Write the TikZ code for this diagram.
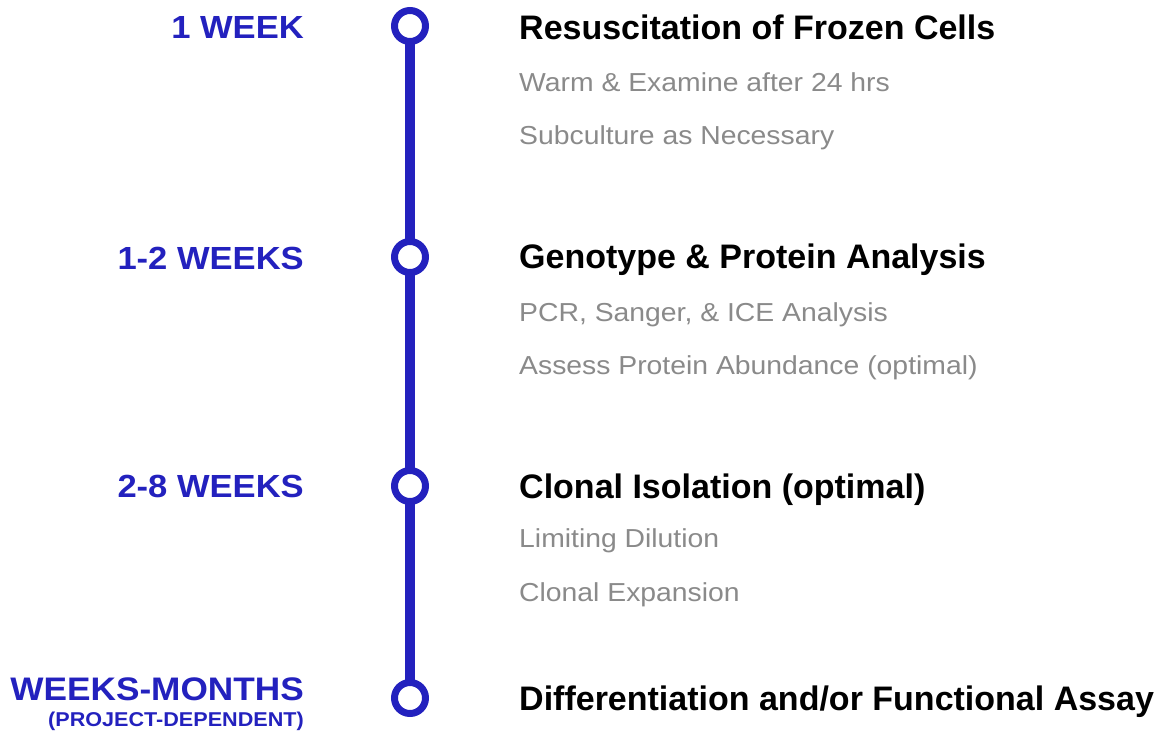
\documentclass[tikz,border=0pt]{standalone}
\usepackage{fontspec}
\setmainfont{Liberation Sans}
\newfontfamily\labfont{Liberation Sans}[FakeStretch=1.08]
\newfontfamily\grayfont{Liberation Sans}[FakeStretch=1.09]
\usetikzlibrary{backgrounds}
\definecolor{tlblue}{RGB}{35,33,190}
\definecolor{tlgray}{RGB}{138,138,138}
\tikzset{
  milestone/.style={circle, draw=tlblue, line width=7pt, fill=white, inner sep=0pt, minimum size=31pt},
  timeline/.style={draw=tlblue, line width=10.5pt},
  period/.style={anchor=base east, inner sep=0pt, text=tlblue, font=\labfont\bfseries\fontsize{32}{36}\selectfont},
  periodnote/.style={anchor=base east, inner sep=0pt, text=tlblue, font=\labfont\bfseries\fontsize{20}{24}\selectfont},
  steptitle/.style={anchor=base west, inner sep=0pt, text=black, font=\bfseries\fontsize{34}{40}\selectfont},
  stepitem/.style={anchor=base west, inner sep=0pt, text=tlgray, font=\grayfont\fontsize{26}{30}\selectfont}
}
\begin{document}
\begin{tikzpicture}[x=1pt,y=-1pt]
\useasboundingbox (0,0) rectangle (1160,736);
% milestones
\node[milestone] (c1) at (410,26) {};
\node[milestone] (c2) at (410,257) {};
\node[milestone] (c3) at (410,486) {};
\node[milestone] (c4) at (410,698) {};
\begin{scope}[on background layer]
  \draw[timeline] (c1.center) -- (c4.center);
\end{scope}
% periods
\node[period] (p1) at (304,38) {1 WEEK};
\node[period] (p2) at (304,269) {1-2 WEEKS};
\node[period] (p3) at (304,497.5) {2-8 WEEKS};
\node[period, font=\labfont\bfseries\fontsize{32.6}{36}\selectfont] (p4) at (304,700.5) {WEEKS-MONTHS};
\node[periodnote] (p4n) at (304,726) {(PROJECT-DEPENDENT)};
% steps
\node[steptitle] (t1) at (519,39.5) {Resuscitation of Frozen Cells};
\node[stepitem] (t1a) at (519,91.5) {Warm \& Examine after 24 hrs};
\node[stepitem] (t1b) at (519,144) {Subculture as Necessary};
\node[steptitle] (t2) at (519,268) {Genotype \& Protein Analysis};
\node[stepitem] (t2a) at (519,321) {PCR, Sanger, \& ICE Analysis};
\node[stepitem] (t2b) at (519,374) {Assess Protein Abundance (optimal)};
\node[steptitle] (t3) at (519,498) {Clonal Isolation (optimal)};
\node[stepitem] (t3a) at (519,547) {Limiting Dilution};
\node[stepitem] (t3b) at (519,601) {Clonal Expansion};
\node[steptitle] (t4) at (519,710) {Differentiation and/or Functional Assay};
\end{tikzpicture}
\end{document}
